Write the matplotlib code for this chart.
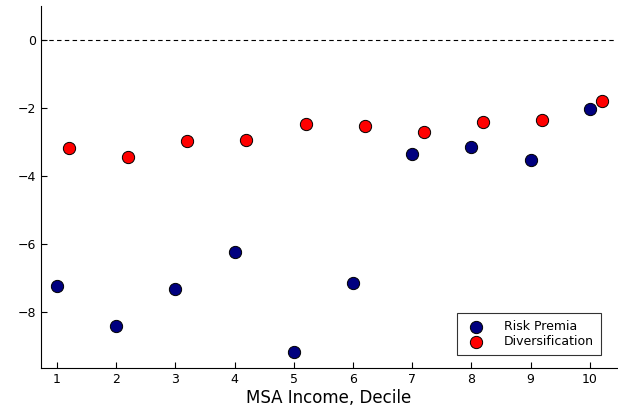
import matplotlib
matplotlib.use("Agg")
import matplotlib.pyplot as plt

# Dados
decis = [1, 2, 3, 4, 5, 6, 7, 8, 9, 10]
risk_premia = [-7.24, -8.41, -7.32, -6.24, -9.18, -7.15, -3.35, -3.15, -3.53, -2.03]
diversificacao = [-3.18, -3.44, -2.97, -2.94, -2.47, -2.53, -2.71, -2.41, -2.35, -1.79]
deslocamento = 0.2

fig = plt.figure(figsize=(6.18, 4.15), dpi=100)
ax = fig.add_axes([41 / 618, 1 - 368 / 415, 576 / 618, 362 / 415])

ax.axhline(0, color="black", linestyle=(0, (4, 3)), linewidth=0.8, zorder=1)

ax.scatter(decis, risk_premia, s=78, color="#00007f", edgecolors="black",
           linewidths=0.7, label="Risk Premia", zorder=3)
ax.scatter([d + deslocamento for d in decis], diversificacao, s=78, color="#ff0000",
           edgecolors="black", linewidths=0.7, label="Diversification", zorder=3)

ax.set_xlim(0.73, 10.46)
ax.set_ylim(-9.65, 1.0)
ax.set_xticks(decis)
ax.set_yticks([0, -2, -4, -6, -8])
ax.tick_params(direction="in", length=4, width=0.8, labelsize=9)
ax.spines["top"].set_visible(False)
ax.spines["right"].set_visible(False)

ax.set_xlabel("MSA Income, Decile", fontsize=12, labelpad=2)

leg = ax.legend(loc="lower right", bbox_to_anchor=(0.972, 0.036), fontsize=9,
                frameon=True, fancybox=False, edgecolor="black",
                handletextpad=1.2, borderpad=0.55, borderaxespad=0,
                labelspacing=0.15, handlelength=2.0)
leg.get_frame().set_linewidth(0.8)

fig.savefig("out.png", dpi=100)
